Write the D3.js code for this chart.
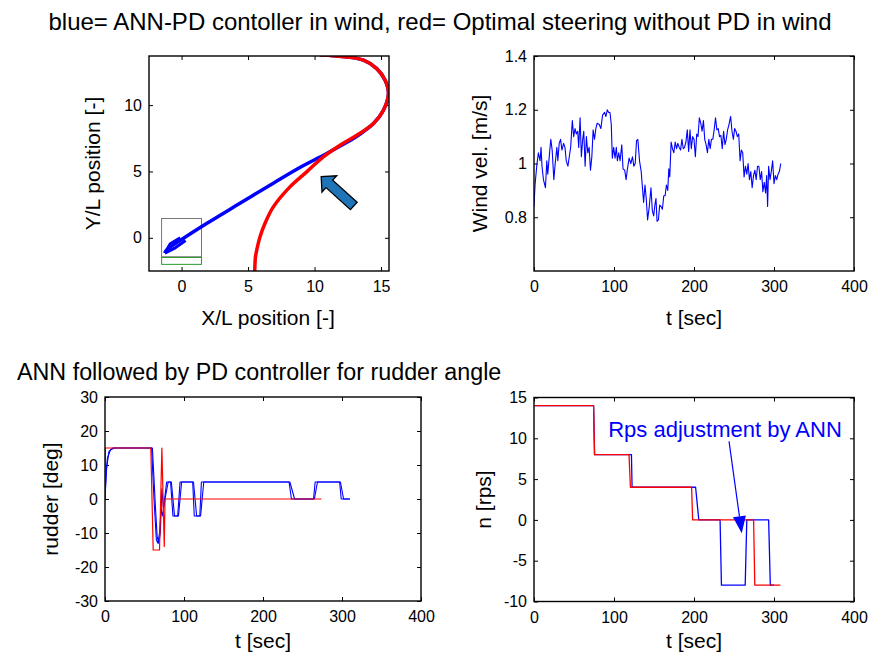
<!DOCTYPE html>
<html>
<head>
<meta charset="utf-8">
<script src="https://cdn.jsdelivr.net/npm/d3@7"></script>
<style>
body { margin: 0; background: #fff; }
text { font-family: Arial, "Liberation Sans", sans-serif; fill: #000; }
.axis text { font-size: 16px; font-family: Arial, "Liberation Sans", sans-serif; }
.axis line { stroke: #000; stroke-width: 1; }
.label { font-size: 21px; }
</style>
</head>
<body>
<svg id="chart" width="869" height="660"></svg>
<script>

// ---- trajectory (X/L, Y/L) ----
const trajRed = [[5.5,-2.7],[5.55,-1.5],[5.65,-0.93],[5.9,0.08],[6.27,1.08],[6.9,2.33],[8.15,3.84],[9.41,4.97],
    [10.66,6.1],[11.92,6.98],[13.18,7.73],[14.43,8.61],[15.18,9.61],[15.56,10.87],[15.31,11.87],[14.68,12.75],
    [13.68,13.38],[12.42,13.63],[10.4,13.8]];
const trajBlue = [[10.4,13.8],[12.42,13.63],[13.68,13.38],[14.68,12.75],[15.31,11.87],[15.56,10.87],[15.18,9.61],
    [14.43,8.61],[13.4,7.8],[12.92,7.48],[10.92,6.36],[8.9,5.3],[6.9,4.12],[4.39,2.6],[1.88,1.08],[0.12,-0.05],
    [-1.13,-0.93],[-1.26,-1.15]];
const trajBlueEnd1 = [[-1.26,-1.15],[-0.55,-0.8],[0.3,-0.2]];
const trajBlueEnd2 = [[-1.26,-1.15],[-0.85,-0.45],[-0.1,0.0]];
const dockBox = [[-1.5,-1.43],[1.5,1.46]];
const dockLine = [[-1.5,-2.0],[1.5,-1.48]];
const bigArrow = {tail: [12.95,2.4], tip: [10.5,4.62]};

// ---- wind velocity ----
const windT = [0,1.3,3.4,5.5,7.6,8.8,10,11.8,14.3,16,17.2,18.9,21,22.7,24.8,26.5,28.6,29.8,31.5,33.2,34.9,37,38.7,
    40.3,42.4,44.1,45.8,47.9,49.6,51.3,52.9,54.6,55.9,57.6,59.2,60.9,62.2,63.9,65.5,67.2,68.9,70.6,72.3,73.9,75.6,
    77.3,79,81.5,83.6,85.7,88.2,89.9,91.6,93.3,95,96.6,97.9,99.6,101.3,102.9,104.2,105.9,107.6,109.7,111.3,113.4,
    115.1,116.8,118.9,121,123.1,124.8,126.5,128.2,129.8,131.9,134,135.3,137,138.7,140.3,142,144.1,146.2,147.9,149.6,
    151.3,152.5,153.8,155.5,157.1,158.8,160.5,162.2,163.9,165.5,167.2,168.5,169.7,171.4,173.1,174.8,176.5,178.2,
    179.8,181.5,183.2,184.9,186.6,188.2,189.9,191.6,193.3,195,196.6,198.3,200,201.7,203.4,205,206.7,208.4,210.1,
    211.8,213.4,215.1,216.8,218.5,220.2,221.8,223.5,225.2,226.9,228.6,230.3,231.9,233.6,235.3,237,238.7,240.3,242,
    243.7,245.8,247.5,249.2,250.8,252.5,254.2,255.9,257.6,259.2,260.9,262.6,264.3,266,267.6,269.3,271,272.7,274.4,
    276.1,277.7,279.4,281.1,282.8,284.5,286.1,287.8,289.5,290.8,292,293.3,295,296.6,298.3,300,301.7,303.4,305,
    306.7,308.4];
const windV = [0.84,0.92,0.99,1.04,1.01,1.06,0.99,0.94,0.91,1.01,0.96,1.02,1.09,1.05,0.94,1.0,1.06,1.01,1.075,1.09,
    1.05,1.075,1.06,1.01,0.99,1.025,1.06,1.16,1.10,1.13,1.11,1.12,1.06,1.17,1.025,1.09,1.12,0.99,1.10,1.04,1.06,0.975,
    1.025,1.125,1.09,1.13,1.15,1.145,1.13,1.18,1.19,1.175,1.20,1.19,1.19,1.145,1.02,1.06,1.02,1.06,1.01,1.04,1.01,
    1.07,0.98,0.975,0.94,0.98,1.02,1.0,1.025,0.99,1.0,1.085,1.09,1.01,0.97,0.92,0.855,0.92,0.87,0.79,0.84,0.91,0.825,
    0.805,0.85,0.87,0.785,0.79,0.845,0.84,0.83,0.88,0.88,0.92,0.90,0.98,0.95,1.08,1.055,1.04,1.08,1.055,1.075,1.06,
    1.05,1.09,1.055,1.06,1.08,1.125,1.045,1.125,1.055,1.10,1.09,1.025,1.11,1.10,1.17,1.15,1.12,1.16,1.09,1.07,1.04,
    1.09,1.055,1.09,1.09,1.125,1.17,1.125,1.13,1.10,1.105,1.055,1.12,1.07,1.09,1.125,1.145,1.175,1.12,1.09,1.13,1.12,
    1.10,1.11,1.01,1.05,1.04,0.95,0.99,0.96,1.0,0.94,0.97,0.91,0.955,0.975,0.94,0.99,0.99,0.94,0.97,0.895,0.93,0.89,
    0.955,0.84,0.99,0.94,0.97,1.01,0.925,0.955,0.94,0.96,0.97,1.0];

// ---- rudder angle [deg] ----
const rudderRed = [[0,0],[0.3,15],[58,15],[61,-15],[69,-15],[72,15],[75,-14],[76,0],[274,0]];
const rudderBlueA = [[0,0],[2,9],[5,14],[10,15],[59,15],[62,0],[65,-12],[67,-13],[69,-10],[71,-3],[73,-5],[75,-1],
    [78,5],[83,5],[86,-5],[92,-5],[95,5],[111,5],[113,-5],[120,-5],[122,5],[233,5],[236,0],[264,0],[266,5],[297,5],
    [299,0],[310,0]];
const rudderBlueB = [[0,0],[1,6],[3,12],[7,14.5],[12,15],[60,15],[64,-3],[66,-11],[68,-13],[70,-10],[72,3],[74,-3],
    [76,0],[80,5],[84,5],[88,-5],[93,-5],[97,5],[112,5],[116,-5],[121,-5],[125,5],[234,5],[240,0],[265,0],[269,5],
    [298,5],[302,0],[310,0]];

// ---- propeller rps ----
const rpsRed = [[0,14],[74.5,14],[75.7,8],[118.8,8],[120.5,4],[197,4],[198.3,0],[274.5,0],[276,-8],[308,-8]];
const rpsBlue = [[0,14],[74.5,14],[75.7,8],[121.8,8],[122.6,4],[202,4],[206,0],[232.6,0],[234.3,-8],[264,-8],
    [266,0],[293.3,0],[295.4,-8],[300,-8]];
const rpsNote = {text: "Rps adjustment by ANN", at: [92.8,10.2], from: [243.8,9.63], to: [259.7,-1.64]};

const svg = d3.select("#chart");
let clipN = 0;

function panel(box, xd, yd, xt, yt) {
    const g = svg.append("g").attr("transform", "translate(" + box.x + "," + box.y + ")");
    const x = d3.scaleLinear().domain(xd).range([0, box.w]);
    const y = d3.scaleLinear().domain(yd).range([box.h, 0]);
    const fmt = d => String(d);
    g.append("g").attr("class", "axis").attr("transform", "translate(0," + box.h + ")")
        .call(d3.axisBottom(x).tickValues(xt).tickFormat(fmt).tickSize(-4).tickPadding(10).tickSizeOuter(0));
    g.append("g").attr("class", "axis")
        .call(d3.axisLeft(y).tickValues(yt).tickFormat(fmt).tickSize(-4).tickPadding(7).tickSizeOuter(0));
    g.append("g").attr("class", "axis")
        .call(d3.axisTop(x).tickValues(xt).tickFormat("").tickSize(-4).tickSizeOuter(0));
    g.append("g").attr("class", "axis").attr("transform", "translate(" + box.w + ",0)")
        .call(d3.axisRight(y).tickValues(yt).tickFormat("").tickSize(-4).tickSizeOuter(0));
    g.selectAll(".axis .domain").remove();
    g.selectAll(".axis text").attr("fill", "#000");
    const id = "clip" + (clipN++);
    g.append("clipPath").attr("id", id).append("rect").attr("width", box.w).attr("height", box.h);
    const plot = g.append("g").attr("clip-path", "url(#" + id + ")");
    return {g: g, plot: plot, x: x, y: y, box: box};
}

function frame(p) {
    p.g.append("rect").attr("width", p.box.w).attr("height", p.box.h)
        .attr("fill", "none").attr("stroke", "#000").attr("stroke-width", 1.4);
}

function pathLine(p, data, color, width, curve) {
    p.plot.append("path")
        .datum(data)
        .attr("fill", "none")
        .attr("stroke", color)
        .attr("stroke-width", width)
        .attr("stroke-linejoin", "round")
        .attr("d", d3.line().curve(curve || d3.curveLinear)
            .x(d => p.x(d[0]))
            .y(d => p.y(d[1])));
}

// titles
svg.append("text").attr("x", 440).attr("y", 30).attr("text-anchor", "middle").attr("font-size", 24)
    .text("blue= ANN-PD contoller in wind, red= Optimal steering without PD in wind");
svg.append("text").attr("x", 17).attr("y", 380).attr("font-size", 23.3)
    .text("ANN followed by PD controller for rudder angle");

// ---------- trajectory ----------
const p1 = panel({x: 149, y: 56, w: 240, h: 215}, [-2.45, 15.6], [-2.5, 13.7], [0, 5, 10, 15], [0, 5, 10]);
p1.plot.append("rect")
    .attr("x", p1.x(dockBox[0][0])).attr("y", p1.y(dockBox[1][1]))
    .attr("width", p1.x(dockBox[1][0]) - p1.x(dockBox[0][0]))
    .attr("height", p1.y(dockBox[0][1]) - p1.y(dockBox[1][1]))
    .attr("fill", "none").attr("stroke", "#666").attr("stroke-width", 0.9);
p1.plot.append("rect")
    .attr("x", p1.x(dockLine[0][0])).attr("y", p1.y(dockLine[1][1]))
    .attr("width", p1.x(dockLine[1][0]) - p1.x(dockLine[0][0]))
    .attr("height", p1.y(dockLine[0][1]) - p1.y(dockLine[1][1]))
    .attr("fill", "none").attr("stroke", "#2a9a2a").attr("stroke-width", 1);
pathLine(p1, trajBlue, "#0000ff", 3.5, d3.curveCatmullRom);
pathLine(p1, trajBlueEnd1, "#0000ff", 3, d3.curveLinear);
pathLine(p1, trajBlueEnd2, "#0000ff", 3, d3.curveLinear);
pathLine(p1, trajRed, "#ff0000", 3.5, d3.curveCatmullRom);

// fat direction arrow
(function () {
    const tp = [p1.x(bigArrow.tip[0]), p1.y(bigArrow.tip[1])];
    const tl = [p1.x(bigArrow.tail[0]), p1.y(bigArrow.tail[1])];
    const len = Math.hypot(tp[0] - tl[0], tp[1] - tl[1]);
    const u = [(tp[0] - tl[0]) / len, (tp[1] - tl[1]) / len];
    const n = [-u[1], u[0]];
    const hl = 11, hw = 11, sw = 5;
    const hb = [tp[0] - u[0] * hl, tp[1] - u[1] * hl];
    const pts = [
        [tl[0] + n[0] * sw, tl[1] + n[1] * sw],
        [hb[0] + n[0] * sw, hb[1] + n[1] * sw],
        [hb[0] + n[0] * hw, hb[1] + n[1] * hw],
        tp,
        [hb[0] - n[0] * hw, hb[1] - n[1] * hw],
        [hb[0] - n[0] * sw, hb[1] - n[1] * sw],
        [tl[0] - n[0] * sw, tl[1] - n[1] * sw]
    ];
    p1.g.append("polygon").attr("points", pts.map(d => d.join(",")).join(" "))
        .attr("fill", "#1f74b8").attr("stroke", "#000").attr("stroke-width", 1.3)
        .attr("stroke-linejoin", "miter");
})();
frame(p1);
p1.g.append("text").attr("class", "label").attr("x", 119).attr("y", 269).attr("text-anchor", "middle")
    .text("X/L position [-]");
p1.g.append("text").attr("class", "label").attr("text-anchor", "middle")
    .attr("transform", "translate(-49," + 107.5 + ") rotate(-90)")
    .text("Y/L position [-]");

// ---------- wind ----------
const p2 = panel({x: 534, y: 56, w: 320, h: 215}, [0, 400], [0.6, 1.4], [0, 100, 200, 300, 400], [0.8, 1, 1.2, 1.4]);
pathLine(p2, windT.map((t, i) => [t, windV[i]]), "#0000ff", 1.1);
frame(p2);
p2.g.append("text").attr("class", "label").attr("x", 160).attr("y", 269).attr("text-anchor", "middle")
    .text("t [sec]");
p2.g.append("text").attr("class", "label").attr("text-anchor", "middle")
    .attr("transform", "translate(-47," + 107.5 + ") rotate(-90)")
    .text("Wind vel. [m/s]");

// ---------- rudder ----------
const p3 = panel({x: 105, y: 397, w: 316, h: 204}, [0, 400], [-30, 30], [0, 100, 200, 300, 400], [-30, -20, -10, 0, 10, 20, 30]);
pathLine(p3, rudderBlueB, "#0000ff", 1.1);
pathLine(p3, rudderBlueA, "#0000ff", 1.1);
pathLine(p3, rudderRed, "#ff0000", 1.2);
frame(p3);
p3.g.append("text").attr("class", "label").attr("x", 158).attr("y", 251).attr("text-anchor", "middle")
    .text("t [sec]");
p3.g.append("text").attr("class", "label").attr("text-anchor", "middle")
    .attr("transform", "translate(-47," + 102 + ") rotate(-90)")
    .text("rudder [deg]");

// ---------- rps ----------
const p4 = panel({x: 534, y: 397.5, w: 320, h: 204}, [0, 400], [-10, 15], [0, 100, 200, 300, 400], [-10, -5, 0, 5, 10, 15]);
pathLine(p4, rpsBlue, "#0000ff", 1.3);
pathLine(p4, rpsRed, "#ff0000", 1.3);
// annotation
(function () {
    const a = [p4.x(rpsNote.from[0]), p4.y(rpsNote.from[1])];
    const b = [p4.x(rpsNote.to[0]), p4.y(rpsNote.to[1])];
    const len = Math.hypot(b[0] - a[0], b[1] - a[1]);
    const u = [(b[0] - a[0]) / len, (b[1] - a[1]) / len];
    const n = [-u[1], u[0]];
    const hl = 17, hw = 6.5;
    const hb = [b[0] - u[0] * hl, b[1] - u[1] * hl];
    p4.g.append("line").attr("x1", a[0]).attr("y1", a[1]).attr("x2", hb[0]).attr("y2", hb[1])
        .attr("stroke", "#0000ff").attr("stroke-width", 1.2);
    p4.g.append("polygon")
        .attr("points", [b, [hb[0] + n[0] * hw, hb[1] + n[1] * hw], [hb[0] - n[0] * hw, hb[1] - n[1] * hw]]
            .map(d => d.join(",")).join(" "))
        .attr("fill", "#0000ff");
    p4.g.append("text").attr("x", p4.x(rpsNote.at[0])).attr("y", p4.y(rpsNote.at[1]))
        .attr("font-size", 22).style("fill", "#0000ff").text(rpsNote.text);
})();
frame(p4);
p4.g.append("text").attr("class", "label").attr("x", 160).attr("y", 250.5).attr("text-anchor", "middle")
    .text("t [sec]");
p4.g.append("text").attr("class", "label").attr("text-anchor", "middle")
    .attr("transform", "translate(-43," + 102 + ") rotate(-90)")
    .text("n [rps]");

</script>
</body>
</html>
